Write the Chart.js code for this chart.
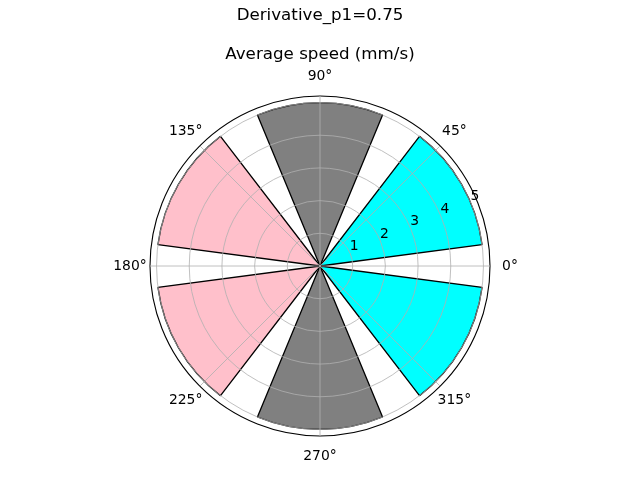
<!DOCTYPE html>
<html>
<head>
<meta charset="utf-8">
<script src="https://cdn.jsdelivr.net/npm/chart.js@4.4.1/dist/chart.umd.min.js"></script>
<style>
  html, body { margin: 0; padding: 0; background: #fff; }
</style>
</head>
<body>
<canvas id="polarChart" width="640" height="480"></canvas>
<script>
// bar centres (deg, matplotlib style: 0 = right, counter-clockwise)
const barCenters = [30, 90, 150, 210, 270, 330];
const barSpeeds = [5, 5, 5, 5, 5, 5];
const barColors = ["#00ffff", "#808080", "#ffc0cb", "#ffc0cb", "#808080", "#00ffff"];
const barWidth = 45;

const angleLabels = ["0°", "45°", "90°", "135°", "180°", "225°", "270°", "315°"];
const radialTicks = [1, 2, 3, 4, 5];
const rMax = 5.2;

// chart.js goes clockwise from the right, so rebuild the bars in that order with gaps between
const bars = barCenters.map((c, i) => ({
  start: ((360 - (c + barWidth / 2)) % 360 + 360) % 360,
  value: barSpeeds[i],
  color: barColors[i],
})).sort((a, b) => a.start - b.start);

const segValues = [], segAngles = [], segColors = [], segBorders = [];
let pos = 0;
bars.forEach((b) => {
  if (b.start > pos) {
    segValues.push(0); segAngles.push(b.start - pos); segColors.push("rgba(0,0,0,0)"); segBorders.push(0);
  }
  segValues.push(b.value); segAngles.push(barWidth); segColors.push(b.color); segBorders.push(1.3);
  pos = b.start + barWidth;
});
if (pos < 360) {
  segValues.push(0); segAngles.push(360 - pos); segColors.push("rgba(0,0,0,0)"); segBorders.push(0);
}

// scale labels go clockwise too
const cwLabels = [angleLabels[0]].concat(angleLabels.slice(1).reverse());

Chart.defaults.font.family = "'DejaVu Sans', sans-serif";
Chart.defaults.color = "#000";

const textPlugin = {
  id: "polarText",
  afterDraw(chart) {
    const ctx = chart.ctx;
    const scale = chart.scales.r;
    ctx.save();
    ctx.fillStyle = "#000";
    ctx.font = "13.9px 'DejaVu Sans'";
    ctx.textAlign = "center";
    ctx.textBaseline = "middle";
    // angle labels outside the spine
    for (let i = 0; i < cwLabels.length; i++) {
      const p = scale.getPointPosition(i, scale.drawingArea + 20);
      ctx.fillText(cwLabels[i], p.x, p.y);
    }
    // radial tick labels along 22.5 deg
    const a = 22.5 * Math.PI / 180;
    radialTicks.forEach((v) => {
      const d = scale.getDistanceFromCenterForValue(v);
      ctx.fillText(String(v), scale.xCenter + d * Math.cos(a) + 4, scale.yCenter - d * Math.sin(a) - 7);
    });
    ctx.restore();
  },
};

const ctx = document.getElementById("polarChart").getContext("2d");
new Chart(ctx, {
  type: "polarArea",
  data: {
    labels: cwLabels,
    datasets: [
      {
        data: segValues,
        backgroundColor: segColors,
        borderColor: "#000",
        borderWidth: (c) => segBorders[c.dataIndex],
        angle: (c) => segAngles[c.dataIndex],
      },
    ],
  },
  options: {
    responsive: false,
    animation: false,
    layout: { padding: { left: 149, right: 149, top: 0, bottom: 43 } },
    plugins: {
      legend: { display: false },
      tooltip: { enabled: false },
      title: {
        display: true,
        text: "Derivative_p1=0.75",
        font: { size: 16.7, weight: "normal" },
        padding: { top: 6, bottom: 9 },
      },
      subtitle: {
        display: true,
        text: "Average speed (mm/s)",
        color: "#000",
        font: { size: 16.7, weight: "normal" },
        padding: { top: 10, bottom: 30 },
      },
    },
    scales: {
      r: {
        min: 0,
        max: rMax,
        startAngle: 90,
        ticks: { display: false },
        afterBuildTicks: (s) => {
          s.ticks = [0].concat(radialTicks, [rMax]).map((v) => ({ value: v }));
        },
        grid: {
          z: 1, // grid over the bars, like matplotlib
          circular: true,
          color: (c) => (c.tick && c.tick.value >= rMax ? "#000" : "#b0b0b0"),
          lineWidth: (c) => (c.tick && c.tick.value >= rMax ? 1.1 : 0.8),
        },
        angleLines: { display: true, color: "#b0b0b0", lineWidth: 0.8 },
        pointLabels: { display: false },
      },
    },
  },
  plugins: [textPlugin],
});
</script>
</body>
</html>
